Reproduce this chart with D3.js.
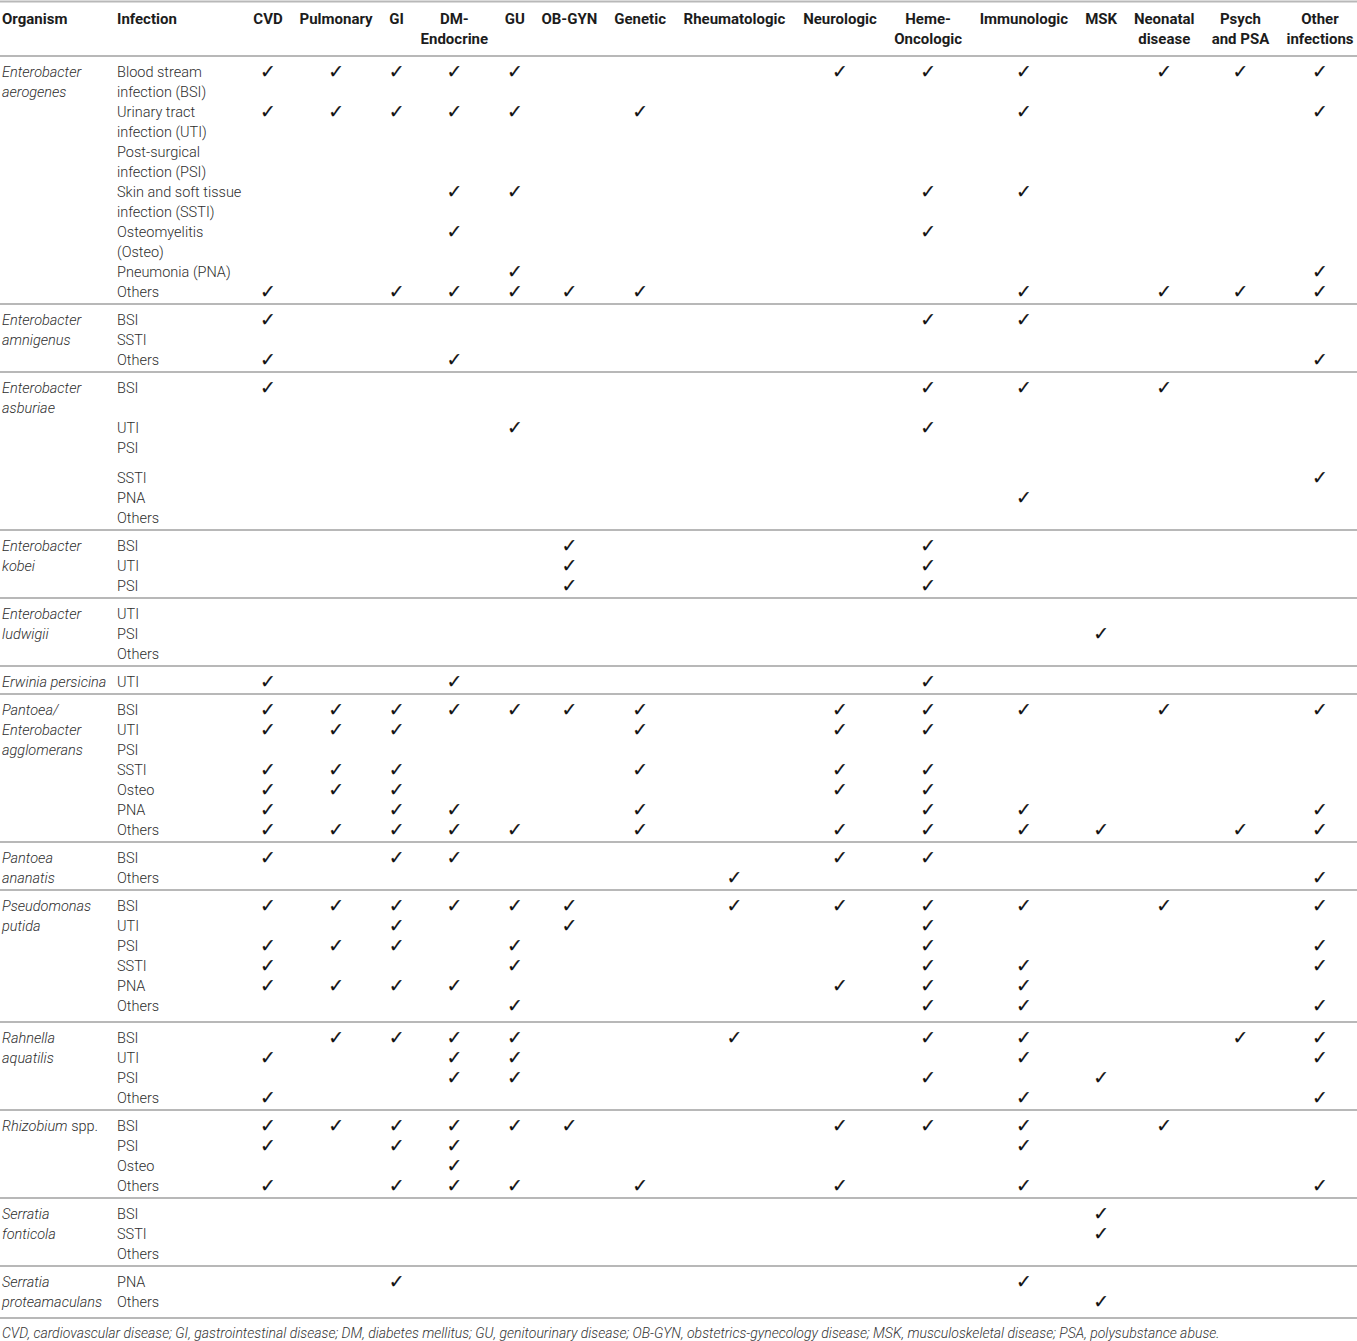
<!DOCTYPE html>
<html>
<head>
<meta charset="utf-8">
<script src="https://cdn.jsdelivr.net/npm/d3@7"></script>
<style>
  body { margin: 0; background: #fff; }
  text { font-family: "Roboto", "Liberation Sans", sans-serif; }
  .head { font-weight: 700; fill: #1c1c1c; font-size: 15px; }
  .cell { font-weight: 300; fill: #2e2e2e; font-size: 14.5px; }
  .org { font-style: italic; }
  .tick { font-family: "DejaVu Sans", sans-serif; font-size: 19px; fill: #111; stroke: #111; stroke-width: 0.2; }
  .note { font-weight: 300; font-style: italic; fill: #333; font-size: 14px; }
</style>
</head>
<body>
<div id="table-container"></div>
<script>
// column headers (line breaks as in the printed table)
const columns = ["CVD", "Pulmonary", "GI", "DM-\nEndocrine", "GU", "OB-GYN", "Genetic",
  "Rheumatologic", "Neurologic", "Heme-\nOncologic", "Immunologic", "MSK",
  "Neonatal\ndisease", "Psych\nand PSA", "Other\ninfections"];

const organisms = ["Enterobacter\naerogenes", "Enterobacter\namnigenus", "Enterobacter\nasburiae",
  "Enterobacter\nkobei", "Enterobacter\nludwigii", "Erwinia persicina",
  "Pantoea/\nEnterobacter\nagglomerans", "Pantoea\nananatis", "Pseudomonas\nputida",
  "Rahnella\naquatilis", "Rhizobium spp.", "Serratia\nfonticola", "Serratia\nproteamaculans"];

const infections = [
  ["Blood stream\ninfection (BSI)", "Urinary tract\ninfection (UTI)", "Post-surgical\ninfection (PSI)",
   "Skin and soft tissue\ninfection (SSTI)", "Osteomyelitis\n(Osteo)", "Pneumonia (PNA)", "Others"],
  ["BSI", "SSTI", "Others"],
  ["BSI", "UTI", "PSI", "SSTI", "PNA", "Others"],
  ["BSI", "UTI", "PSI"],
  ["UTI", "PSI", "Others"],
  ["UTI"],
  ["BSI", "UTI", "PSI", "SSTI", "Osteo", "PNA", "Others"],
  ["BSI", "Others"],
  ["BSI", "UTI", "PSI", "SSTI", "PNA", "Others"],
  ["BSI", "UTI", "PSI", "Others"],
  ["BSI", "PSI", "Osteo", "Others"],
  ["BSI", "SSTI", "Others"],
  ["PNA", "Others"]
];

// ticked columns (index into columns) for every infection row
const checks = [
  [[0,1,2,3,4,8,9,10,12,13,14], [0,1,2,3,4,6,10,14], [], [3,4,9,10], [3,9], [4,14], [0,2,3,4,5,6,10,12,13,14]],
  [[0,9,10], [], [0,3,14]],
  [[0,9,10,12], [4,9], [], [14], [10], []],
  [[5,9], [5,9], [5,9]],
  [[], [11], []],
  [[0,3,9]],
  [[0,1,2,3,4,5,6,8,9,10,12,14], [0,1,2,6,8,9], [], [0,1,2,6,8,9], [0,1,2,8,9], [0,2,3,6,9,10,14], [0,1,2,3,4,6,8,9,10,11,13,14]],
  [[0,2,3,8,9], [7,14]],
  [[0,1,2,3,4,5,7,8,9,10,12,14], [2,5,9], [0,1,2,4,9,14], [0,4,9,10,14], [0,1,2,3,8,9,10], [4,9,10,14]],
  [[1,2,3,4,7,9,10,13,14], [0,3,4,10,14], [3,4,9,11], [0,10,14]],
  [[0,1,2,3,4,5,8,9,10,12], [0,2,3,10], [3], [0,2,3,4,6,8,10,14]],
  [[11], [11], []],
  [[2,10], [11]]
];

const footnote = "CVD, cardiovascular disease; GI, gastrointestinal disease; DM, diabetes mellitus; GU, genitourinary disease; OB-GYN, obstetrics-gynecology disease; MSK, musculoskeletal disease; PSA, polysubstance abuse.";

// extra blank space some rows carry in the printed table (group-row: lines)
const extraLines = { "2-0": 1, "2-2": 0.5, "8-5": 0.2, "12-1": 0.2 };

const width = 1357;
const height = 1341;
const lineH = 20;
const headTop = 1.5, headBottom = 56;
const padTop = 5.5, padBottom = 2.5;
const orgX = 2, infX = 117;

const svg = d3.select("#table-container")
  .append("svg")
  .attr("width", width)
  .attr("height", height)
  .attr("viewBox", `0 0 ${width} ${height}`);

// ---- column centres from measured header widths
const measure = svg.append("text").attr("class", "head");
const colW = columns.map(c => {
  const w = d3.max(c.split("\n"), s => { measure.text(s); return measure.node().getComputedTextLength(); });
  return w + 15;
});
measure.remove();
const cum = d3.cumsum(colW);
const centres = colW.map((w, i) => cum[i] - w / 2);
const x = d3.scaleLinear()
  .domain([centres[0], centres[centres.length - 1]])
  .range([268, 1320]);

// ---- row layout
let yCursor = headBottom;
const groups = organisms.map((org, g) => {
  let line = 0;
  const rows = infections[g].map((inf, r) => {
    const row = { label: inf, line: line, checks: checks[g][r] };
    line += inf.split("\n").length + (extraLines[`${g}-${r}`] || 0);
    return row;
  });
  const lines = Math.max(line, org.split("\n").length);
  const top = yCursor;
  yCursor += padTop + lines * lineH + padBottom;
  return { org, rows, top, bottom: yCursor };
});

const y = d3.scaleLinear().domain([0, 1]).range([0, lineH]);
const rowY = (grp, line) => grp.top + padTop + y(line) + lineH / 2;

// ---- rules
const rules = [headTop, headBottom].concat(groups.map(d => d.bottom));
svg.selectAll("line.rule")
  .data(rules)
  .enter()
  .append("line")
  .attr("class", "rule")
  .attr("x1", 0)
  .attr("x2", width)
  .attr("y1", d => d)
  .attr("y2", d => d)
  .attr("stroke", "#b8b8b8")
  .attr("stroke-width", 2);

// ---- header
const headY = (i) => headTop + 17 + i * 20;
function multiline(sel, lines, yFn) {
  lines.forEach((s, i) => sel.append("tspan").attr("x", sel.attr("x")).attr("y", yFn(i)).attr("dy", "0.35em").text(s));
}
[["Organism", orgX], ["Infection", infX]].forEach(([t, px]) => {
  svg.append("text").attr("class", "head").attr("x", px).attr("y", headY(0)).attr("dy", "0.35em").text(t);
});
svg.selectAll("text.colhead")
  .data(columns)
  .enter()
  .append("text")
  .attr("class", "head colhead")
  .attr("text-anchor", "middle")
  .attr("x", (d, i) => x(centres[i]))
  .each(function(d) { multiline(d3.select(this), d.split("\n"), headY); });

// ---- body
const gSel = svg.selectAll("g.group")
  .data(groups)
  .enter()
  .append("g")
  .attr("class", "group");

gSel.append("text")
  .attr("class", "cell")
  .attr("x", orgX)
  .each(function(d) {
    const t = d3.select(this);
    d.org.split("\n").forEach((s, i) => {
      const sp = s.split(" spp.");
      t.append("tspan").attr("class", "org").attr("x", orgX).attr("y", rowY(d, i)).attr("dy", "0.35em").text(sp[0]);
      if (sp.length > 1) t.append("tspan").text(" spp.");
    });
  });

gSel.each(function(grp) {
  const g = d3.select(this);
  g.selectAll("text.inf")
    .data(grp.rows)
    .enter()
    .append("text")
    .attr("class", "cell inf")
    .attr("x", infX)
    .each(function(r) {
      multiline(d3.select(this), r.label.split("\n"), i => rowY(grp, r.line + i));
    });

  g.selectAll("text.tick")
    .data(grp.rows.flatMap(r => r.checks.map(c => ({ c, line: r.line }))))
    .enter()
    .append("text")
    .attr("class", "tick")
    .attr("text-anchor", "middle")
    .attr("x", d => x(centres[d.c]))
    .attr("y", d => rowY(grp, d.line))
    .attr("dy", "0.33em")
    .text("\u2713");
});

// ---- footnote
svg.append("text")
  .attr("class", "note")
  .attr("x", orgX)
  .attr("y", yCursor + 15)
  .attr("dy", "0.35em")
  .text(footnote);
</script>
</body>
</html>
